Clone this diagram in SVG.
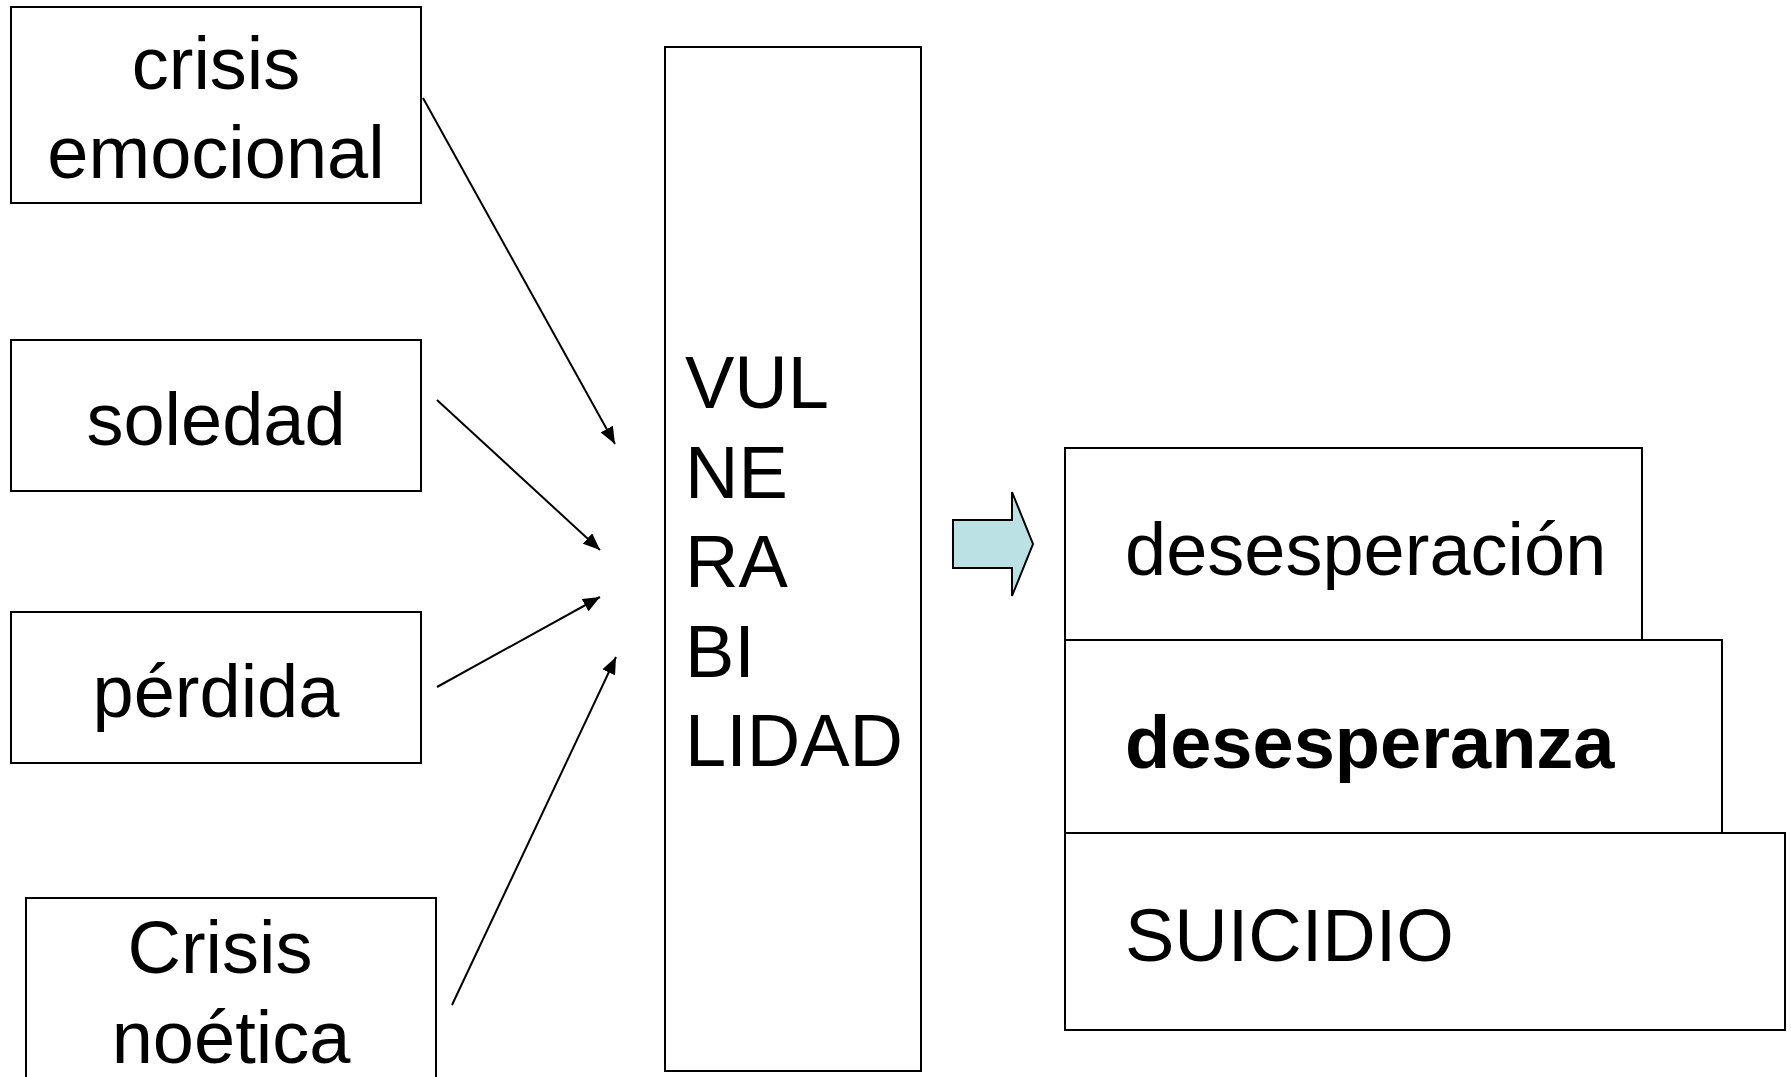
<svg xmlns="http://www.w3.org/2000/svg" width="1791" height="1077" viewBox="0 0 1791 1077">
<style>
.box{fill:#fff;stroke:#000;stroke-width:2}
.t{font-family:"Liberation Sans",Arial,sans-serif;font-size:74px;fill:#000}
.c{text-anchor:middle}
.b{font-weight:bold}
.conn{stroke:#000;stroke-width:2;fill:none}
</style>
<defs>
<marker id="ah" markerUnits="userSpaceOnUse" markerWidth="18" markerHeight="14" refX="17" refY="7" orient="auto">
<path d="M0,0 L17,7 L0,14 Z" fill="#000"/>
</marker>
</defs>
<rect width="1791" height="1077" fill="#fff"/>
<g id="crisis-emocional">
<rect class="box" x="11" y="7" width="410" height="196"/>
<text class="t c" x="216" y="89">crisis</text>
<text class="t c" x="216" y="178">emocional</text>
</g>
<g id="soledad">
<rect class="box" x="11" y="340" width="410" height="151"/>
<text class="t c" x="216" y="445">soledad</text>
</g>
<g id="perdida">
<rect class="box" x="11" y="612" width="410" height="151"/>
<text class="t c" x="216" y="717">pérdida</text>
</g>
<g id="crisis-noetica">
<rect class="box" x="26" y="898" width="410" height="220"/>
<text class="t c" x="220" y="973">Crisis</text>
<text class="t c" x="231" y="1063">noética</text>
</g>
<g id="vulnerabilidad">
<rect class="box" x="665" y="47" width="256" height="1024" stroke-width="2.5"/>
<text class="t" x="685" y="408">VUL</text>
<text class="t" x="685" y="498">NE</text>
<text class="t" x="685" y="587">RA</text>
<text class="t" x="685" y="677">BI</text>
<text class="t" x="685" y="766">LIDAD</text>
</g>
<g id="connectors">
<line class="conn" x1="423" y1="98" x2="615" y2="444" marker-end="url(#ah)"/>
<line class="conn" x1="437" y1="400" x2="600" y2="550" marker-end="url(#ah)"/>
<line class="conn" x1="437" y1="687" x2="600" y2="597" marker-end="url(#ah)"/>
<line class="conn" x1="452" y1="1005" x2="616" y2="657" marker-end="url(#ah)"/>
<polygon points="953,520 1012,520 1012,492 1033,544 1012,596 1012,568 953,568" fill="#BCE1E4" stroke="#000" stroke-width="2"/>
</g>
<g id="desesperacion">
<rect class="box" x="1065" y="448" width="577" height="192"/>
<text class="t" x="1125" y="575">desesperación</text>
</g>
<g id="desesperanza">
<rect class="box" x="1065" y="640" width="657" height="193"/>
<text class="t b" x="1125" y="768">desesperanza</text>
</g>
<g id="suicidio">
<rect class="box" x="1065" y="833" width="720" height="197"/>
<text class="t" x="1125" y="961">SUICIDIO</text>
</g>
</svg>
